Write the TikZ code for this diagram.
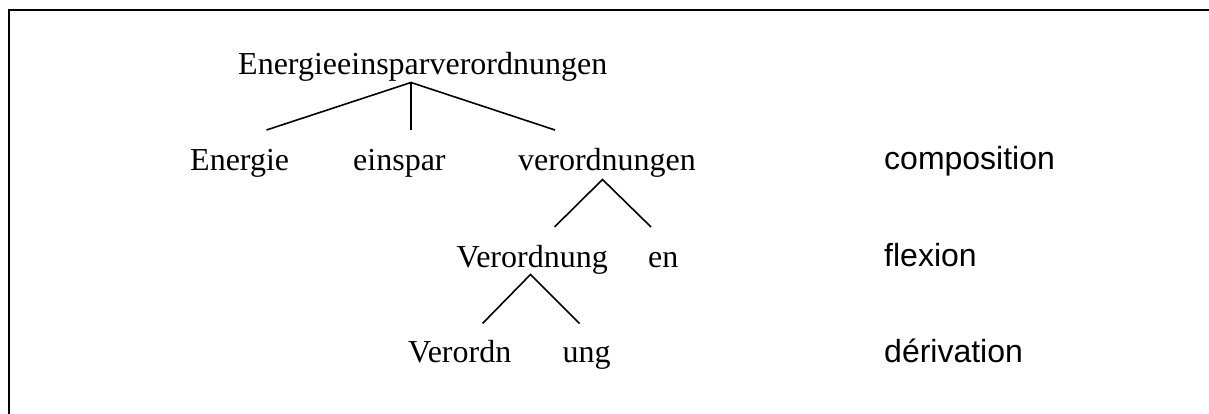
\documentclass[tikz,border=0pt]{standalone}
\usepackage{fontspec}
\setmainfont{Liberation Serif}
\newfontfamily\labelfont{Liberation Sans}
\tikzset{
  word/.style={anchor=base west, inner sep=0pt, font=\fontsize{32}{38}\selectfont},
  level/.style={anchor=base west, inner sep=0pt, font=\labelfont\fontsize{32}{38}\selectfont},
  branch/.style={line width=1.6pt, line cap=butt},
  frame/.style={line width=2pt}
}
\begin{document}
\begin{tikzpicture}[x=1pt,y=-1pt]
\useasboundingbox (0,0) rectangle (1209,414);
\clip (0,0) rectangle (1209,414);
\draw[frame] (9,10) rectangle (1230,440);

\node[word] (root) at (238,75) {Energieeinsparverordnungen};
\node[word] (energie) at (190,171) {Energie};
\node[word] (einspar) at (353,171) {einspar};
\node[word] (verordnungen) at (518,171) {verordnungen};
\node[word] (verordnung) at (456.5,267) {Verordnung};
\node[word] (en) at (648,267) {en};
\node[word] (verordn) at (408,362) {Verordn};
\node[word] (ung) at (562.5,362) {ung};

\node[level] (composition) at (884,170) {composition};
\node[level] (flexion) at (884,266) {flexion};
\node[level] (derivation) at (884,362) {dérivation};

\coordinate (a1) at (411,82.5);
\coordinate (e1) at (266.5,130);
\coordinate (e2) at (411,130.5);
\coordinate (e3) at (555,130);
\coordinate (a2) at (602.5,179.5);
\coordinate (f1) at (554.5,227);
\coordinate (f2) at (651,227);
\coordinate (a3) at (530.5,274.5);
\coordinate (g1) at (482.5,323.5);
\coordinate (g2) at (579.5,323.5);

\draw[branch] (e1) -- (a1) -- (e3);
\draw[branch] (a1) -- (e2);
\draw[branch] (f1) -- (a2) -- (f2);
\draw[branch] (g1) -- (a3) -- (g2);
\end{tikzpicture}
\end{document}
